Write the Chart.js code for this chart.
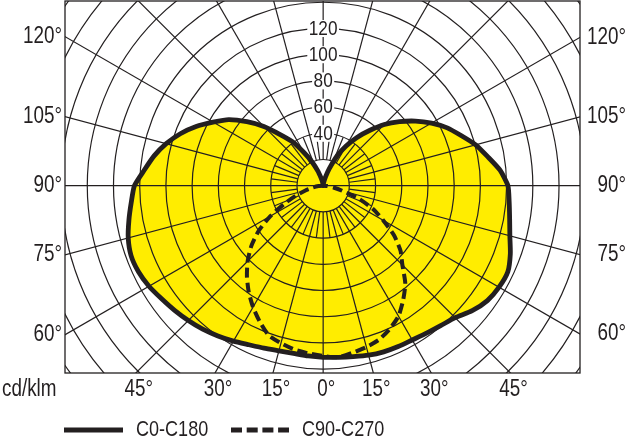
<!DOCTYPE html>
<html>
<head>
<meta charset="utf-8">
<script src="https://cdn.jsdelivr.net/npm/chart.js@4.4.1/dist/chart.umd.min.js"></script>
<style>
html,body{margin:0;padding:0;background:#ffffff;}
#wrap{position:relative;width:628px;height:440px;}
canvas{display:block;}
</style>
</head>
<body>
<div id="wrap"><canvas id="chart" width="628" height="440"></canvas></div>
<script>
// gamma angles (degrees from nadir)
const gammaFull = [0,5,10,15,20,25,30,35,40,45,50,55,60,65,70,75,80,85,90,95,100,105,110,115,120,125,130,135,140,145,150,155,160,165,170,175,180];
const gammaHalf = [0,5,10,15,20,25,30,35,40,45,50,55,60,65,70,75,80,85,90];
// luminous intensity (cd/klm)
const c0   = [131,131.5,132.5,134,135,135.5,136,137.5,139.5,142.5,148.5,153,155,155.5,152,147.5,144.5,142.5,141,135.5,127.5,120.5,112,104.5,95.5,86,76,66,55,45,35,25,14,7,3,1,0];
const c180 = [131,130.5,130,130.5,132,134,137,140,143,145.5,148,150.5,153.5,155.5,156,154,150.5,147,144,137,131,124,116,107,97,88,76,64,51,41,29,20,12,6,3,1,0];
const c90  = [131,131.5,129.5,127.5,125,120.5,115,106.5,97.5,85.5,77,66,53,42,29,15,8,3,0];
const c270 = [130,128.5,127,124.5,121.5,114.5,107,99,90.5,81.5,71.5,60,46.5,32.5,22,14,8,3.5,0];
// grid / labels
const ringValues = [20,40,60,80,100,120,140,160,180,200,220,240];
const ringLabelValues = [40,60,80,100,120];
const sideAngles = [120,105,90,75,60];
const bottomAngles = [-45,-30,-15,0,15,30,45];
const seriesLabels = ['C0-C180','C90-C270'];
const unitLabel = 'cd/klm';

const INK = '#231f20';
const YELLOW = '#ffed00';
const rad = d => d * Math.PI / 180;

function pt(g, I, side){ return {x: side * I * Math.sin(rad(g)), y: -I * Math.cos(rad(g))}; }
function buildCurve(gam, left, right){
  const out = [];
  for (let i = gam.length - 1; i >= 0; i--) out.push(pt(gam[i], left[i], -1));
  for (let i = 1; i < gam.length; i++) out.push(pt(gam[i], right[i], 1));
  return out;
}
const solidPts = buildCurve(gammaFull, c180, c0);
const dashPts = buildCurve(gammaHalf, c270, c90);

const NARROW = (function(){
  const c = document.createElement('canvas').getContext('2d');
  const s = 'C0-C180 cd/klm 120°';
  c.font = '40px monospace'; const a = c.measureText(s).width;
  c.font = '40px "Liberation Sans Narrow", monospace'; const b = c.measureText(s).width;
  return Math.abs(a - b) > 0.5;
})();

function setFont(ctx, size){
  ctx.font = NARROW ? size + 'px "Liberation Sans Narrow"' : size + 'px "Liberation Sans", Arial, sans-serif';
}
function measure(ctx, s, size){
  ctx.save(); setFont(ctx, size); const w = ctx.measureText(s).width; ctx.restore();
  return NARROW ? w : w * 0.82;
}
function txt(ctx, s, x, y, size, align){
  ctx.save();
  ctx.fillStyle = INK;
  ctx.textBaseline = 'middle';
  ctx.textAlign = align;
  setFont(ctx, size);
  if (NARROW) { ctx.fillText(s, x, y); }
  else { ctx.translate(x, y); ctx.scale(0.82, 1); ctx.fillText(s, 0, 0); }
  ctx.restore();
}

function geom(chart){
  const xs = chart.scales.x, ys = chart.scales.y;
  const cx = xs.getPixelForValue(0), cy = ys.getPixelForValue(0);
  const ppu = xs.getPixelForValue(1) - cx;
  return {xs, ys, cx, cy, ppu, a: chart.chartArea};
}

function drawGrid(chart){
  const {ys, cx, cy, ppu, a} = geom(chart);
  const ctx = chart.ctx;
  ctx.save();
  ctx.beginPath(); ctx.rect(a.left, a.top, a.right - a.left, a.bottom - a.top); ctx.clip();
  ctx.strokeStyle = INK; ctx.lineWidth = 1.2;
  for (const v of ringValues) { ctx.beginPath(); ctx.arc(cx, cy, v * ppu, 0, Math.PI * 2); ctx.stroke(); }
  const r0 = ringValues[0] * ppu, rMinor = ringValues[1] * ppu, rFar = 1000;
  for (let d = 0; d < 360; d += 7.5) {
    const t = rad(d), r1 = (d % 15 === 0) ? rFar : rMinor;
    ctx.beginPath();
    ctx.moveTo(cx + r0 * Math.sin(t), cy + r0 * Math.cos(t));
    ctx.lineTo(cx + r1 * Math.sin(t), cy + r1 * Math.cos(t));
    ctx.stroke();
  }
  ctx.beginPath(); ctx.moveTo(cx - r0, cy); ctx.lineTo(cx + r0, cy); ctx.stroke();
  for (const v of ringLabelValues) {
    const y = ys.getPixelForValue(v);
    const w = measure(ctx, String(v), 21) + 3;
    ctx.fillStyle = '#ffffff';
    ctx.fillRect(cx - w / 2, y - 8.5, w, 17);
    txt(ctx, String(v), cx, y + 0.5, 21, 'center');
  }
  ctx.restore();
}

function drawDecor(chart){
  const {cx, cy, a} = geom(chart);
  const ctx = chart.ctx;
  ctx.save();
  ctx.strokeStyle = INK; ctx.lineWidth = 1.3;
  ctx.strokeRect(a.left, a.top, a.right - a.left, a.bottom - a.top);
  for (const A of sideAngles) {
    const yl = cy + (cx - a.left) / Math.tan(rad(A));
    const yr = cy + (a.right - cx) / Math.tan(rad(A));
    txt(ctx, A + '°', a.left - 3, yl, 23, 'right');
    txt(ctx, A + '°', 626, yr, 23, 'right');
  }
  const yb = a.bottom + 17;
  for (const A of bottomAngles) {
    const x = cx + (a.bottom - cy) * Math.tan(rad(A));
    txt(ctx, Math.abs(A) + '°', x + 3, yb, 23, 'center');
  }
  txt(ctx, unitLabel, 2, yb, 23, 'left');
  // legend
  const ly = 430;
  ctx.lineWidth = 5; ctx.lineCap = 'butt';
  ctx.beginPath(); ctx.moveTo(64, ly); ctx.lineTo(123, ly); ctx.stroke();
  txt(ctx, seriesLabels[0], 136, ly, 22, 'left');
  ctx.setLineDash([11, 4.7]);
  ctx.beginPath(); ctx.moveTo(231, ly); ctx.lineTo(289, ly); ctx.stroke();
  ctx.setLineDash([]);
  txt(ctx, seriesLabels[1], 302, ly, 22, 'left');
  ctx.restore();
}

const photoPlugin = {
  id: 'photometric',
  beforeDraw(chart){
    const ctx = chart.ctx; ctx.save(); ctx.fillStyle = '#ffffff';
    ctx.fillRect(0, 0, chart.width, chart.height); ctx.restore();
  },
  afterDatasetDraw(chart, args){ if (args.index === 0) drawGrid(chart); },
  afterDraw(chart){ drawDecor(chart); }
};

new Chart(document.getElementById('chart'), {
  type: 'scatter',
  data: {
    datasets: [
      {label: 'area', data: solidPts.map(p => ({...p})), showLine: true, fill: 'shape',
       backgroundColor: YELLOW, borderColor: 'rgba(0,0,0,0)', borderWidth: 1,
       pointRadius: 0, tension: 0.2, order: 3},
      {label: seriesLabels[0], data: solidPts.map(p => ({...p})), showLine: true, fill: false,
       borderColor: INK, borderWidth: 4.8, borderJoinStyle: 'round', borderCapStyle: 'round',
       pointRadius: 0, tension: 0.2, order: 1},
      {label: seriesLabels[1], data: dashPts.map(p => ({...p})), showLine: true, fill: false,
       borderColor: INK, borderWidth: 4, borderDash: [10, 5],
       pointRadius: 0, tension: 0.2, order: 0}
    ]
  },
  options: {
    responsive: false, animation: false, devicePixelRatio: 1, events: [],
    layout: {padding: {left: 65, right: 48, top: 1, bottom: 67}},
    scales: {
      x: {type: 'linear', min: -197, max: 196, display: false},
      y: {type: 'linear', min: -143, max: 141, display: false}
    },
    plugins: {legend: {display: false}, tooltip: {enabled: false}}
  },
  plugins: [photoPlugin]
});
</script>
</body>
</html>
